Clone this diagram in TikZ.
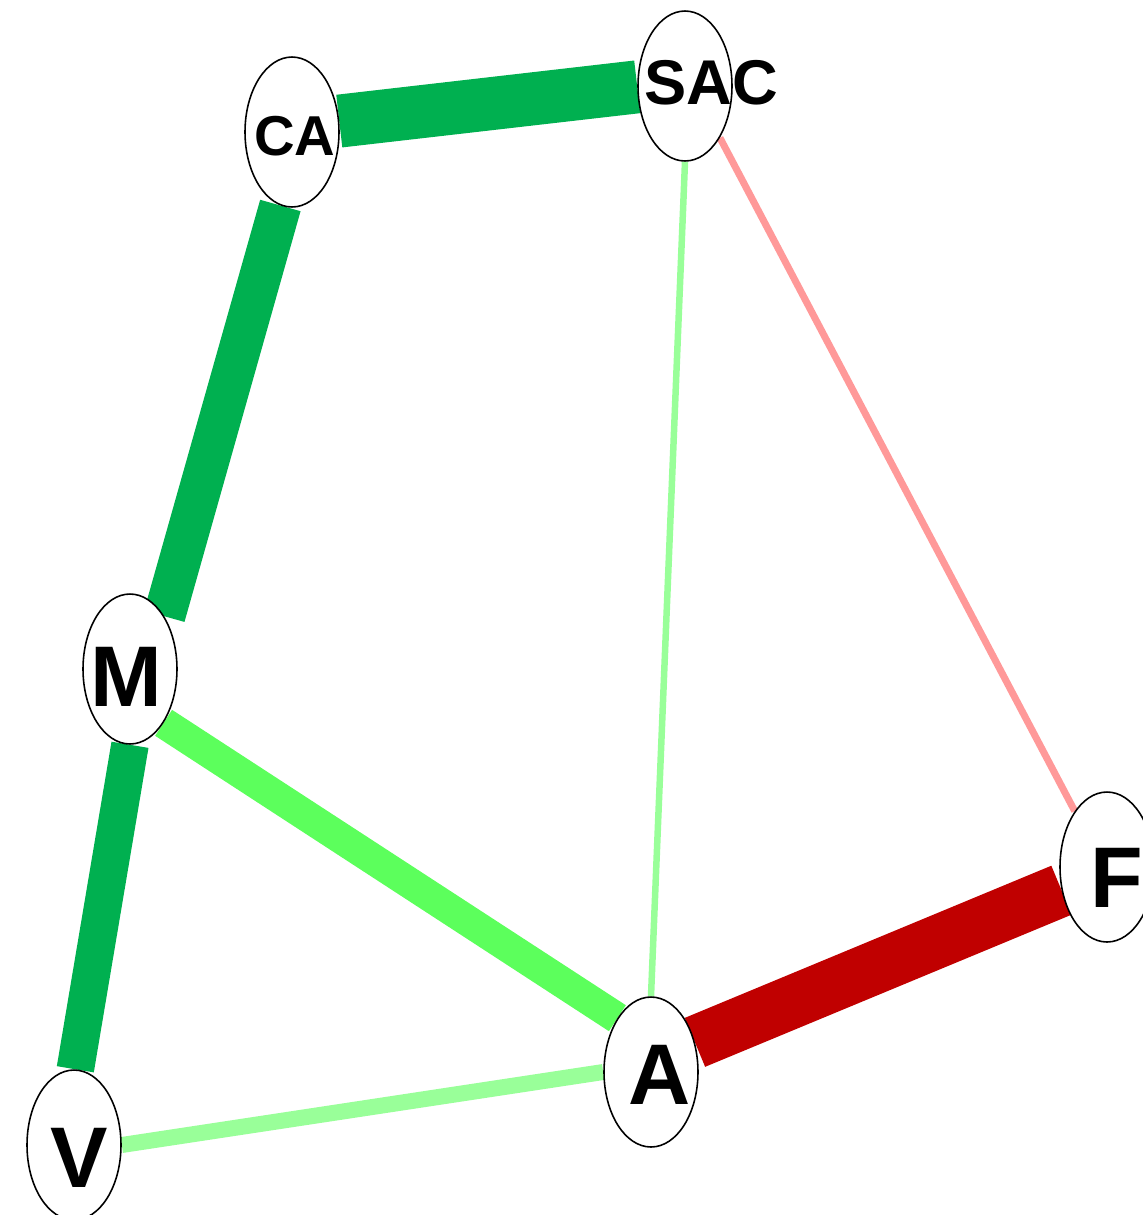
\documentclass[tikz,border=0pt]{standalone}
\usepackage{fontspec}
\setmainfont{Liberation Sans}
\usepackage{xcolor}
\usepackage{tikz}
\usetikzlibrary{shapes.geometric,backgrounds}

\definecolor{strongpos}{HTML}{00B050}
\definecolor{midpos}{HTML}{5CFF5C}
\definecolor{weakpos}{HTML}{99FF99}
\definecolor{weakneg}{HTML}{FF9999}
\definecolor{strongneg}{HTML}{C00000}

\begin{document}
\begin{tikzpicture}[x=0.02cm,y=-0.02cm,
  vert/.style={ellipse,draw=black,line width=0.9pt,fill=white,
    minimum width=1.88cm,minimum height=3cm,inner sep=0pt},
  lbl/.style={inner sep=0pt,font=\bfseries\fontsize{#1}{#1}\selectfont}]
  \useasboundingbox (0,0) rectangle (1143,1215);
  % nodes
  \foreach \nm/\x/\y in {ca/292/132,sac/685/86,m/130/669,f/1107/867,a/651/1072,v/74/1145}{
    \node[vert] (\nm) at (\x,\y) {};
  }
  \node[lbl=32] (ca-t) at (295,136.5) {CA};
  \node[lbl=36] (sac-t) at (711.5,83) {SAC};
  \node[lbl=49] (m-t) at (126,676.5) {M};
  \node[lbl=49] (f-t) at (1117,878) {F};
  \node[lbl=49] (a-t) at (659.5,1075) {A};
  \node[lbl=49] (v-t) at (79,1158) {V};
  % edges
  \begin{scope}[on background layer]
    \draw[strongpos,line width=1.06cm] (ca.13) -- (sac.181);
    \draw[strongpos,line width=0.84cm] (ca.261) -- (m.57);
    \draw[strongpos,line width=0.75cm] (m.270) -- (v.89);
    \draw[midpos,line width=0.62cm] (m.302) -- (a.122);
    \draw[strongneg,line width=1.06cm] (a.34) -- (f.207);
    \draw[weakpos,line width=0.32cm] (v.0) -- (a.180);
    \draw[weakpos,line width=0.13cm] (sac.270) -- (a.90);
    \draw[weakneg,line width=0.14cm] (sac.304) -- (f.120);
  \end{scope}
\end{tikzpicture}
\end{document}
